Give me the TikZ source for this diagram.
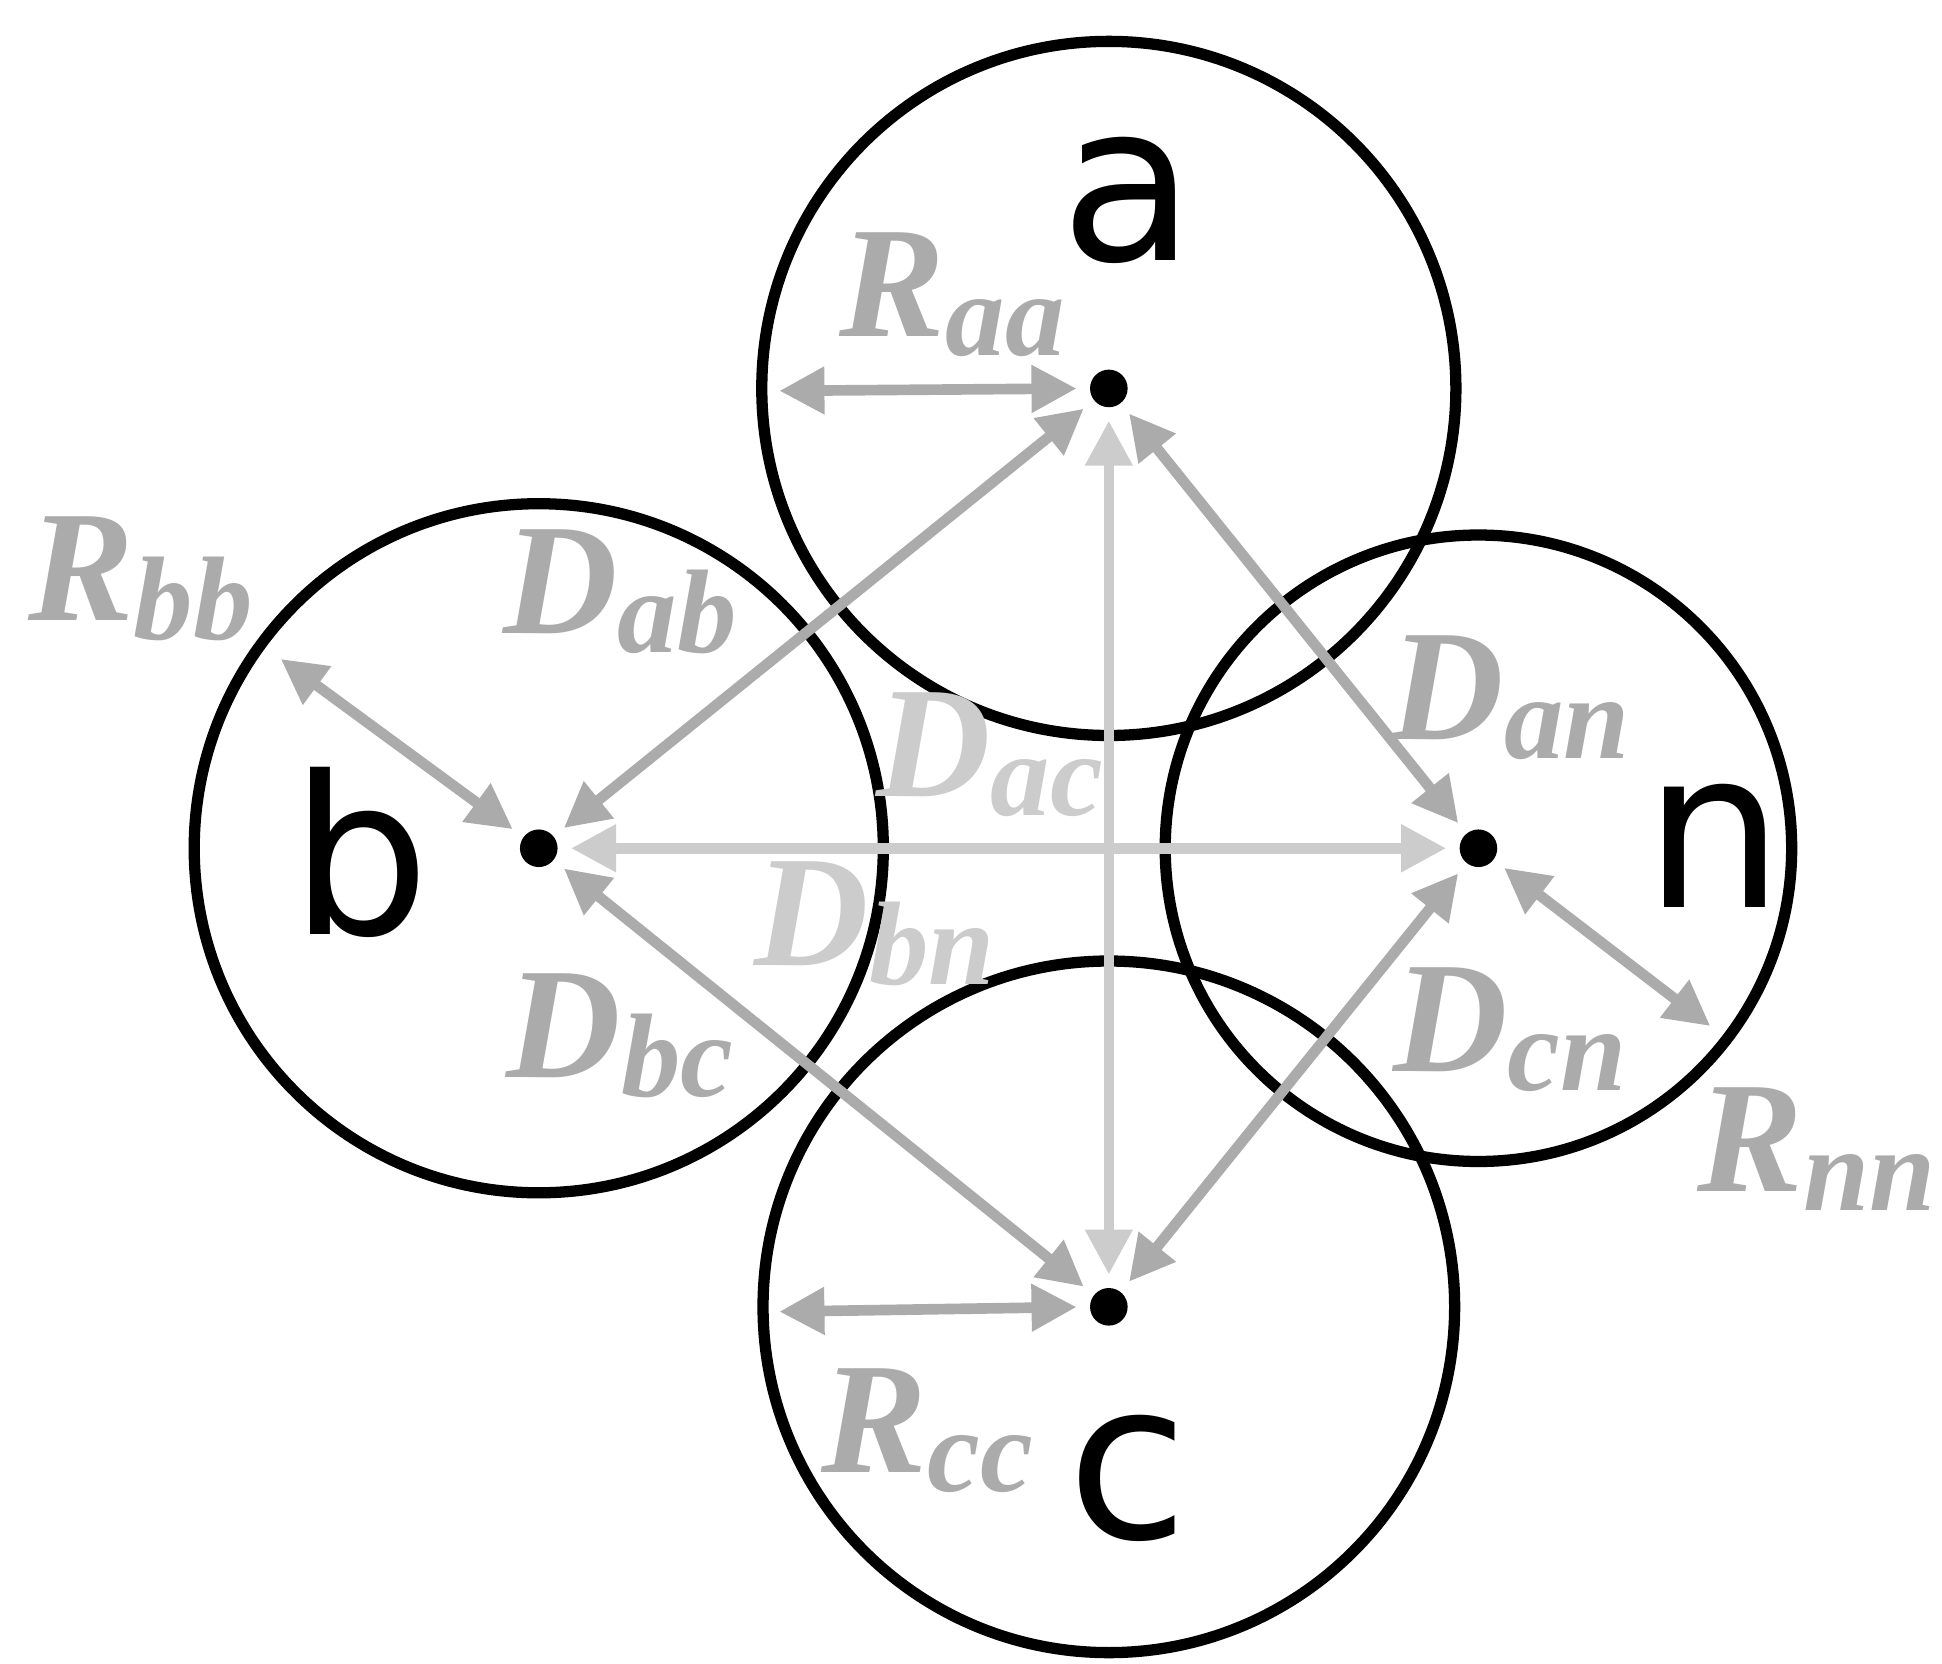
\documentclass[tikz,border=0pt]{standalone}
\usepackage{fontspec}
\setsansfont{DejaVu Sans}
\newfontfamily\labfont{Liberation Serif}
\usetikzlibrary{arrows.meta}
\definecolor{dg}{gray}{0.67}
\definecolor{lg}{gray}{0.80}
\newcommand{\lbl}[2]{{\labfont\bfseries\itshape #1\raisebox{-0.12em}{\fontsize{27}{30}\selectfont #2}}}
\begin{document}
\begin{tikzpicture}[x=0.1mm,y=-0.1mm,
  circ/.style={draw=black,line width=0.9mm},
  dot/.style={circle,fill=black,inner sep=0,minimum size=3mm},
  arr/.style={draw=dg,line width=0.85mm,{Triangle[length=3.6mm,width=3.6mm]}-{Triangle[length=3.6mm,width=3.6mm]},shorten <=1mm,shorten >=1mm},
  arrl/.style={arr,draw=lg},
  lab/.style={text=dg,font=\fontsize{36}{42}\selectfont},
  labl/.style={lab,text=lg},
  big/.style={font=\sffamily\fontsize{50}{60}\selectfont}]
\useasboundingbox (0,0) rectangle (1550,1328);
\draw[circ] (885,310) circle (277);
\draw[circ] (430,677) circle (275);
\draw[circ] (1180,677) circle (250);
\draw[circ] (885,1043) circle (276);
\node[dot] (A) at (885,310) {};
\node[dot] (B) at (430,677) {};
\node[dot] (N) at (1180,677) {};
\node[dot] (C) at (885,1043) {};
\coordinate (ra) at (612,312);
\coordinate (rb) at (216,520);
\coordinate (rn) at (1373,825);
\coordinate (rc) at (612,1047);
\draw[arr] (ra) -- (A.west);
\draw[arr] (rb) -- (B);
\draw[arr] (N) -- (rn);
\draw[arr] (rc) -- (C.west);
\draw[arr] (A) -- (B);
\draw[arrl] (A) -- (C);
\draw[arr] (A) -- (N);
\draw[arrl] (B) -- (N);
\draw[arr] (B) -- (C);
\draw[arr] (N) -- (C);
\node[big] (la) at (900,160) {a};
\node[big] (lb) at (288,680) {b};
\node[big] (ln) at (1368,675) {n};
\node[big] (lc) at (900,1180) {c};
\node[lab] (Raa) at (760,235) {\lbl{R}{aa}};
\node[lab] (Rbb) at (112,462) {\lbl{R}{bb}};
\node[lab] (Dab) at (495,472) {\lbl{D}{ab}};
\node[labl] (Dac) at (790,602) {\lbl{D}{ac}};
\node[lab] (Dan) at (1205,557) {\lbl{D}{an}};
\node[labl] (Dbn) at (698,737) {\lbl{D}{bn}};
\node[lab] (Dbc) at (495,827) {\lbl{D}{bc}};
\node[lab] (Dcn) at (1205,822) {\lbl{D}{cn}};
\node[lab] (Rnn) at (1450,917) {\lbl{R}{nn}};
\node[lab] (Rcc) at (740,1142) {\lbl{R}{cc}};
\end{tikzpicture}
\end{document}
